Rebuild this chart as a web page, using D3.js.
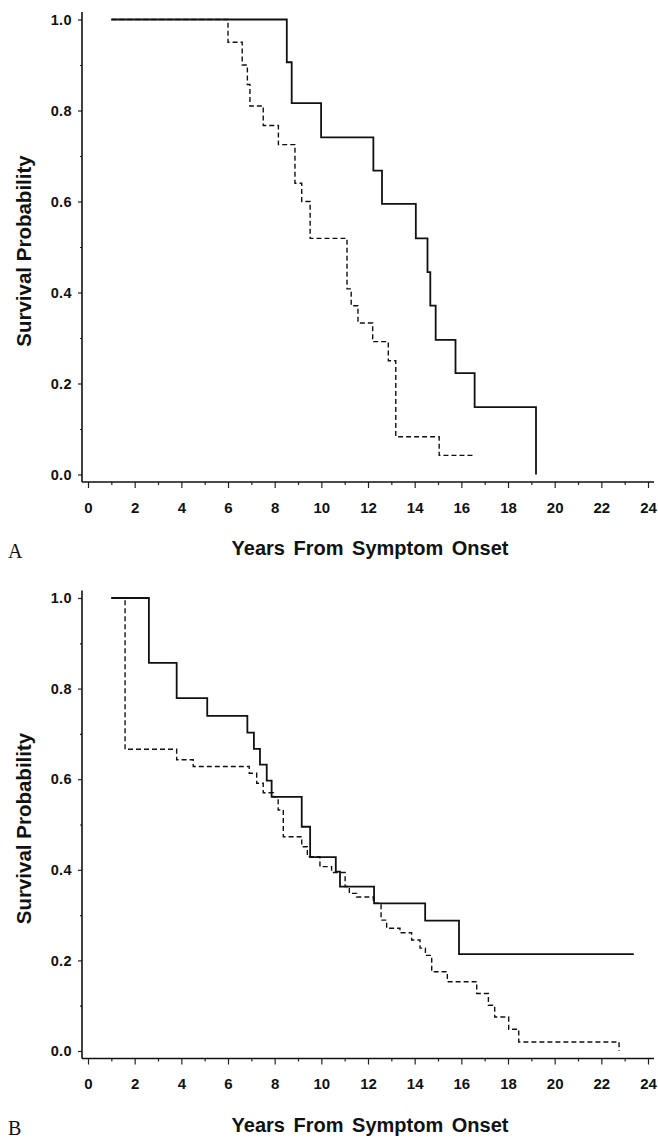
<!DOCTYPE html>
<html>
<head>
<meta charset="utf-8">
<script src="https://cdn.jsdelivr.net/npm/d3@7"></script>
<style>
  html, body { margin: 0; padding: 0; background: #fff; }
  svg { display: block; }
</style>
</head>
<body>
<div id="chart"></div>
<script>
const xTicks = d3.range(0, 25);
const yTicks = d3.range(0, 11).map((i) => i / 10);
const xTitle = "Years From Symptom Onset";
const yTitle = "Survival Probability";

// Panel A — solid group
const aSolidYears = [1.0, 8.52, 8.73, 9.99, 12.23, 12.6, 14.05, 14.55, 14.67, 14.9, 15.75, 16.57, 19.2];
const aSolidSurv = [1.0, 0.906, 0.816, 0.741, 0.668, 0.595, 0.519, 0.445, 0.371, 0.296, 0.223, 0.148, 0.0];

// Panel A — dashed group
const aDashYears = [1.0, 6.0, 6.61, 6.83, 6.94, 7.51, 8.16, 8.87, 9.16, 9.52, 11.1, 11.28, 11.57, 12.2, 12.87, 13.19, 15.05, 16.57];
const aDashSurv = [1.0, 0.95, 0.9, 0.857, 0.81, 0.767, 0.725, 0.64, 0.6, 0.519, 0.408, 0.371, 0.333, 0.292, 0.25, 0.083, 0.042, 0.042];

// Panel B — solid group
const bSolidYears = [1.0, 2.61, 3.8, 5.11, 6.83, 7.11, 7.37, 7.66, 7.87, 9.16, 9.52, 10.62, 10.8, 12.26, 14.45, 15.9, 23.39];
const bSolidSurv = [1.0, 0.857, 0.779, 0.74, 0.703, 0.667, 0.632, 0.597, 0.561, 0.495, 0.428, 0.396, 0.363, 0.326, 0.288, 0.214, 0.214];

// Panel B — dashed group
const bDashYears = [1.0, 1.59, 3.8, 4.51, 6.91, 7.23, 7.51, 7.95, 8.15, 8.37, 9.16, 9.4, 9.94, 10.44, 11.02, 11.2, 11.51, 12.23, 12.56, 12.8, 13.37, 13.87, 14.23, 14.46, 14.73, 15.4, 16.66, 17.16, 17.43, 18.03, 18.46, 22.76];
const bDashSurv = [1.0, 0.666, 0.643, 0.628, 0.613, 0.591, 0.57, 0.561, 0.532, 0.473, 0.451, 0.429, 0.407, 0.394, 0.363, 0.348, 0.34, 0.326, 0.289, 0.271, 0.261, 0.245, 0.227, 0.211, 0.175, 0.153, 0.127, 0.101, 0.075, 0.048, 0.02, 0.0];

const width = 658;
const height = 1139;
const boldFont = '"Liberation Sans", Arial, Helvetica, sans-serif';

const toPoints = (years, surv) => years.map((t, i) => ({ t, s: surv[i] }));

const panels = [
  {
    letter: "A",
    yRange: [474.5, 19.5],
    series: [
      { points: toPoints(aSolidYears, aSolidSurv), dashed: false },
      { points: toPoints(aDashYears, aDashSurv), dashed: true },
    ],
  },
  {
    letter: "B",
    yRange: [1051, 598],
    series: [
      { points: toPoints(bSolidYears, bSolidSurv), dashed: false },
      { points: toPoints(bDashYears, bDashSurv), dashed: true },
    ],
  },
];

const x = d3.scaleLinear().domain([0, 24]).range([88, 648]);

const svg = d3
  .select("#chart")
  .append("svg")
  .attr("width", width)
  .attr("height", height)
  .attr("viewBox", [0, 0, width, height]);

panels.forEach(drawPanel);

function drawPanel(panel) {
  const y = d3.scaleLinear().domain([0, 1]).range(panel.yRange);
  const g = svg.append("g");

  // axes sit slightly off the data origin, like the original plot
  const axisLeftX = x(0) - 6;
  const axisBottomY = y(0) + 7.5;

  // y axis
  const yAxis = g
    .append("g")
    .attr("transform", `translate(${axisLeftX},0)`)
    .call(
      d3
        .axisLeft(y)
        .tickValues(yTicks)
        .tickSize(4)
        .tickPadding(6)
        .tickFormat((d) => (Math.round(d * 10) % 2 === 0 ? d3.format(".1f")(d) : ""))
    );
  yAxis.select(".domain").remove();
  yAxis
    .selectAll(".tick")
    .filter((d) => Math.round(d * 10) % 2 !== 0)
    .select("line")
    .attr("x2", -2);
  yAxis.selectAll("line").attr("stroke", "#222").attr("stroke-width", 1.2);
  yAxis
    .selectAll("text")
    .attr("font-family", boldFont)
    .attr("font-weight", "bold")
    .attr("font-size", 14.5)
    .attr("letter-spacing", 0.4)
    .attr("fill", "#111");

  g.append("line")
    .attr("x1", axisLeftX)
    .attr("x2", axisLeftX)
    .attr("y1", y(1) - 7.5)
    .attr("y2", axisBottomY)
    .attr("stroke", "#111")
    .attr("stroke-width", 1.6);

  // x axis
  const xAxis = g
    .append("g")
    .attr("transform", `translate(0,${axisBottomY})`)
    .call(
      d3
        .axisBottom(x)
        .tickValues(xTicks)
        .tickSize(6)
        .tickPadding(14)
        .tickFormat((d) => (d % 2 === 0 ? d : ""))
    );
  xAxis.select(".domain").remove();
  xAxis
    .selectAll(".tick")
    .filter((d) => d % 2 !== 0)
    .select("line")
    .attr("y2", 3);
  xAxis.selectAll("line").attr("stroke", "#222").attr("stroke-width", 1.2);
  xAxis
    .selectAll("text")
    .attr("font-family", boldFont)
    .attr("font-weight", "bold")
    .attr("font-size", 15)
    .attr("fill", "#111");

  g.append("line")
    .attr("x1", axisLeftX)
    .attr("x2", x(24) + 6)
    .attr("y1", axisBottomY)
    .attr("y2", axisBottomY)
    .attr("stroke", "#111")
    .attr("stroke-width", 1.6);

  // survival curves
  const line = d3
    .line()
    .x((d) => x(d.t))
    .y((d) => y(d.s))
    .curve(d3.curveStepAfter);

  panel.series.forEach((s) => {
    g.append("path")
      .datum(s.points)
      .attr("fill", "none")
      .attr("stroke", "#111")
      .attr("stroke-width", s.dashed ? 1.4 : 1.8)
      .attr("stroke-dasharray", s.dashed ? "5,3" : null)
      .attr("d", line);
  });

  // titles
  g.append("text")
    .attr("x", x(12) + 2)
    .attr("y", axisBottomY + 73)
    .attr("text-anchor", "middle")
    .attr("font-family", boldFont)
    .attr("font-weight", "bold")
    .attr("font-size", 20)
    .attr("word-spacing", 3)
    .attr("fill", "#111")
    .text(xTitle);

  g.append("text")
    .attr("transform", `translate(31,${(y(0) + y(1)) / 2 + 4}) rotate(-90)`)
    .attr("text-anchor", "middle")
    .attr("font-family", boldFont)
    .attr("font-weight", "bold")
    .attr("font-size", 20.5)
    .attr("fill", "#111")
    .text(yTitle);

  g.append("text")
    .attr("x", 8)
    .attr("y", axisBottomY + 76)
    .attr("font-family", '"Liberation Serif", "Times New Roman", serif')
    .attr("font-size", 20)
    .attr("fill", "#111")
    .text(panel.letter);
}
</script>
</body>
</html>
